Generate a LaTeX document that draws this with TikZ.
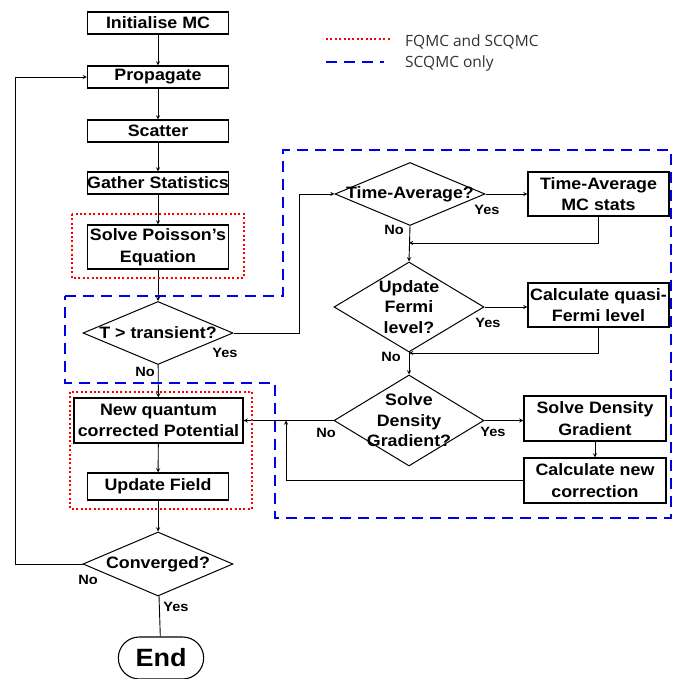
\documentclass[tikz,border=0pt]{standalone}
\usepackage{fontspec}
\setmainfont{Liberation Sans}[FakeStretch=1.08]
\newfontfamily\legendfont{Open Sans}
\usepackage{xcolor}
\usetikzlibrary{shapes.geometric,shapes.misc}

\tikzset{
  procbox/.style={draw, line width=1.1pt, minimum width=141pt, minimum height=22pt,
    inner sep=0pt, align=center, font=\fontsize{16.5}{21.5}\selectfont\bfseries},
  decision/.style={draw, diamond, line width=1pt, inner sep=0pt,
    minimum width=150pt, minimum height=#1},
  dtext/.style={align=center, font=\fontsize{16.5}{20.5}\selectfont\bfseries},
  endbox/.style={draw, rounded rectangle, line width=1.1pt, minimum width=92pt,
    minimum height=42pt, font=\fontsize{25}{30}\selectfont\bfseries},
  flow/.style={->, line width=0.9pt},
  yn/.style={font=\fontsize{13.5}{15}\selectfont\bfseries, inner sep=0pt},
  fqmc/.style={red, line width=2.2pt, dash pattern=on 2pt off 2.4pt},
  scqmc/.style={blue!90!black, line width=2.6pt, dash pattern=on 11pt off 7pt},
  legtext/.style={anchor=west, text=black!80, inner sep=0pt,
    font=\legendfont\fontsize{15.5}{17}\selectfont}
}

\begin{document}
\begin{tikzpicture}[x=1pt,y=-1pt,>=stealth]
\useasboundingbox (0,0) rectangle (681,679);

% legend
\draw[fqmc] (326,39) -- (390,39);
\node[legtext] (legfq) at (405,42) {FQMC and SCQMC};
\draw[scqmc] (326,62) -- (384,62);
\node[legtext] (legsc) at (405,63) {SCQMC only};

% main column
\node[procbox] (init) at (158,23) {Initialise MC};
\node[procbox] (prop) at (158,77) {Propagate};
\node[procbox] (scat) at (158,131) {Scatter};
\node[procbox] (gath) at (158,183) {Gather Statistics};
\node[procbox, minimum height=44pt] (pois) at (158,247) {Solve Poisson's\\Equation};
\node[decision=63pt, label={[dtext]center:T > transient?}] (trans) at (158,333) {};
\node[procbox, minimum width=169pt, minimum height=45pt] (newpot) at (158.5,420.5) {New quantum\\corrected Potential};
\node[procbox, minimum height=27pt] (field) at (158,486.5) {Update Field};
\node[decision=64pt, label={[dtext]center:Converged?}] (conv) at (158,564) {};
\node[endbox] (endn) at (161,658) {End};

% quantum correction branch
\node[decision=63pt, label={[dtext]center:Time-Average?}] (tavg) at (410,194) {};
\node[procbox, minimum height=44pt] (tabox) at (598.5,194) {Time-Average\\MC stats};
\node[decision=90pt, label={[dtext]center:Update\\Fermi\\level?}] (fermi) at (409,307) {};
\node[procbox, minimum height=44pt] (qfbox) at (598.5,305) {Calculate quasi-\\Fermi level};
\node[decision=91pt, label={[dtext]center:Solve\\Density\\Gradient?}] (dens) at (409,420.5) {};
\node[procbox, minimum width=142pt, minimum height=45pt] (sdbox) at (595,418.5) {Solve Density\\Gradient};
\node[procbox, minimum width=142pt, minimum height=45pt] (corr) at (595,480.5) {Calculate new\\correction};

\coordinate (j1) at (409,243);
\coordinate (j2) at (409,353);
\coordinate (j3) at (286,420.5);

% connectors
\draw[flow] (init) -- (prop);
\draw[flow] (prop) -- (scat);
\draw[flow] (scat) -- (gath);
\draw[flow] (gath) -- (pois);
\draw[flow] (pois) -- (trans);
\draw[flow] (trans) -- (newpot);
\draw[flow] (newpot) -- (field);
\draw[flow] (field) -- (conv);
\draw[line width=0.9pt] (conv) -- (endn);
\draw[flow] (conv.west) -- ++(-67,0) |- (prop.west);
\draw[flow] (trans.east) -- ++(66,0) |- (tavg.west);
\draw[flow] (tavg.east) -- (tabox.west);
\draw[flow] (tabox.south) |- (j1);
\draw[flow] (tavg.south) -- (fermi.north);
\draw[flow] (fermi.east) -- (fermi.east -| qfbox.west);
\draw[flow] (qfbox.south) |- (j2);
\draw[flow] (fermi.south) -- (dens.north);
\draw[flow] (dens.east) -- (dens.east -| sdbox.west);
\draw[flow] (sdbox) -- (corr);
\draw[flow] (dens.west) -- (newpot.east);
\draw[flow] (corr.west) -| (j3);

% yes / no labels
\node[yn] (tyes) at (225,353) {Yes};
\node[yn] (tno) at (145,372) {No};
\node[yn] (ayes) at (487,210) {Yes};
\node[yn] (ano) at (394,230) {No};
\node[yn] (fyes) at (488,323) {Yes};
\node[yn] (fno) at (391,357) {No};
\node[yn] (dno) at (326,433) {No};
\node[yn] (dyes) at (493,432) {Yes};
\node[yn] (cno) at (88,580) {No};
\node[yn] (cyes) at (176,607) {Yes};

% FQMC and SCQMC regions
\draw[fqmc] (72,214) rectangle (244,278);
\draw[fqmc] (70,392) rectangle (252,509);

% SCQMC only region
\draw[scqmc] (65,296) -- (283,296) -- (283,150) -- (671,150) -- (671,518)
  -- (275,518) -- (275,383) -- (65,383) -- cycle;
\end{tikzpicture}
\end{document}
